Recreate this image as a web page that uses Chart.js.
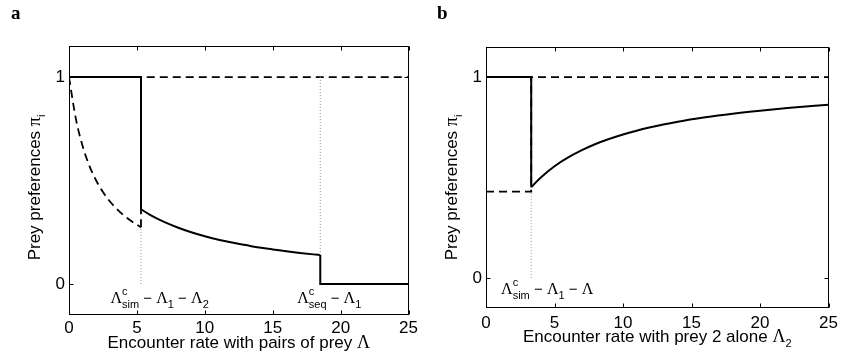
<!DOCTYPE html>
<html>
<head>
<meta charset="utf-8">
<script src="https://cdn.jsdelivr.net/npm/chart.js@4.4.1/dist/chart.umd.min.js"></script>
<style>
  html, body { margin: 0; padding: 0; background: #fff; }
  #wrap { position: relative; width: 843px; height: 362px; }
  canvas { position: absolute; top: 0; }
</style>
</head>
<body>
<div id="wrap">
  <canvas id="chartA" width="421" height="362" style="left:0"></canvas>
  <canvas id="chartB" width="422" height="362" style="left:421px"></canvas>
</div>
<script>
// panel a: preferences vs encounter rate with pairs of prey
const aSwitchSim = 5.3;
const aSwitchSeq = 18.5;
const aDashCurveX = [0, 0.5, 1, 1.5, 2, 2.5, 3, 3.5, 4, 4.5, 5, 5.3];
const aDashCurveY = [1, 0.80, 0.667, 0.571, 0.50, 0.444, 0.40, 0.364, 0.333, 0.308, 0.286, 0.274];
const aSolidCurveX = [5.3, 6, 7, 8, 9, 10, 11, 12, 13, 14, 15, 16, 17, 18, 18.5];
const aSolidCurveY = [0.361, 0.333, 0.30, 0.273, 0.25, 0.231, 0.214, 0.20, 0.188, 0.176, 0.167, 0.158, 0.15, 0.143, 0.14];

// panel b: preferences vs encounter rate with prey 2 alone
const bSwitchSim = 3.3;
const bDashLow = 0.43;
const bSolidCurveX = [3.3, 4, 5, 6, 7, 8, 10, 12, 14, 16, 18, 20, 22, 25];
const bSolidCurveY = [0.452, 0.50, 0.556, 0.60, 0.636, 0.667, 0.714, 0.75, 0.778, 0.80, 0.818, 0.833, 0.846, 0.862];

const xTicks = [0, 5, 10, 15, 20, 25];
const yTicks = [0, 1];

const SANS = '"Liberation Sans", Arial, Helvetica, sans-serif';
const SERIF = '"Liberation Serif", "Times New Roman", serif';
const M = '15px ' + SANS;
const G = '16px ' + SERIF;
const S = '11px ' + SANS;
const T = '17px ' + SANS;
const TG = '18px ' + SERIF;

function pts(xs, ys) { return xs.map((x, i) => ({ x: x, y: ys[i] })); }

function solid(data, smooth) {
  return { data: data, borderColor: '#000', borderWidth: 2, showLine: true, pointRadius: 0,
           cubicInterpolationMode: smooth ? 'monotone' : 'default', tension: 0 };
}
function dashed(data, smooth) {
  const d = solid(data, smooth);
  d.borderDash = [8, 5];
  d.borderWidth = 1.8;
  return d;
}
function dotted(data) {
  return { data: data, borderColor: '#999', borderWidth: 1, borderDash: [1, 2], showLine: true, pointRadius: 0 };
}

// rich text: parts are {t, f, dy, keep}; keep = next part stacks at the same x
function richWidth(ctx, parts) {
  let w = 0, held = 0;
  parts.forEach(p => {
    ctx.font = p.f;
    const pw = ctx.measureText(p.t).width;
    if (p.keep) { held = pw; return; }
    w += Math.max(pw, held);
    held = 0;
  });
  return w;
}
function drawRich(ctx, parts, x, y, align) {
  let cx = align === 'center' ? x - richWidth(ctx, parts) / 2 : x;
  let held = 0;
  ctx.textBaseline = 'alphabetic';
  ctx.textAlign = 'left';
  ctx.fillStyle = '#000';
  parts.forEach(p => {
    ctx.font = p.f;
    ctx.fillText(p.t, cx, y + (p.dy || 0));
    const pw = ctx.measureText(p.t).width;
    if (p.keep) { held = pw; return; }
    cx += Math.max(pw, held);
    held = 0;
  });
}

const decor = {
  id: 'decor',
  afterDraw(chart, args, opts) {
    const ctx = chart.ctx;
    const a = chart.chartArea;
    const xs = chart.scales.x, ys = chart.scales.y;
    const L = Math.round(a.left) + 0.5, R = Math.round(a.right) - 0.5;
    const Tp = Math.round(a.top) + 0.5, B = Math.round(a.bottom) - 0.5;
    ctx.save();
    ctx.strokeStyle = '#000';
    ctx.lineWidth = 1;
    ctx.setLineDash([]);
    ctx.strokeRect(L, Tp, R - L, B - Tp);
    ctx.beginPath();
    xTicks.forEach(v => {
      const px = Math.round(xs.getPixelForValue(v)) + 0.5;
      ctx.moveTo(px, B); ctx.lineTo(px, B - 4);
      ctx.moveTo(px, Tp); ctx.lineTo(px, Tp + 4);
    });
    yTicks.forEach(v => {
      const py = Math.round(ys.getPixelForValue(v)) + 0.5;
      ctx.moveTo(L, py); ctx.lineTo(L + 4, py);
      ctx.moveTo(R, py); ctx.lineTo(R - 4, py);
    });
    ctx.stroke();

    // panel letter
    ctx.font = 'bold 19px ' + SERIF;
    ctx.fillStyle = '#000';
    ctx.textAlign = 'left';
    ctx.textBaseline = 'alphabetic';
    ctx.fillText(opts.letter, opts.letterX, 19);

    // axis titles
    drawRich(ctx, opts.xTitle, (a.left + a.right) / 2, opts.xTitleY, 'center');
    ctx.save();
    ctx.translate(opts.yTitleX, (a.top + a.bottom) / 2 + opts.yTitleShift);
    ctx.rotate(-Math.PI / 2);
    drawRich(ctx, [
      { t: 'Prey preferences ', f: T },
      { t: 'π', f: TG },
      { t: 'i', f: S, dy: 5 }
    ], 0, 0, 'center');
    ctx.restore();

    // threshold labels
    const zero = ys.getPixelForValue(0);
    opts.notes.forEach(n => drawRich(ctx, n.parts, xs.getPixelForValue(n.x), zero + n.dy, 'left'));
    ctx.restore();
  }
};

function makeChart(id, datasets, pad, xH, yW, tickPad, deco) {
  return new Chart(document.getElementById(id), {
    type: 'scatter',
    data: { datasets: datasets },
    options: {
      responsive: false,
      animation: false,
      layout: { padding: pad },
      plugins: { legend: { display: false }, tooltip: { enabled: false }, decor: deco },
      scales: {
        x: {
          type: 'linear', min: 0, max: 25,
          grid: { display: false, drawTicks: false },
          border: { display: false },
          ticks: { stepSize: 5, padding: tickPad, color: '#000', font: { family: SANS, size: 17 } },
          afterFit: s => { s.height = xH; }
        },
        y: {
          type: 'linear', min: -0.15, max: 1.15,
          grid: { display: false, drawTicks: false },
          border: { display: false },
          ticks: { padding: 4, color: '#000', font: { family: SANS, size: 17 } },
          afterBuildTicks: s => { s.ticks = yTicks.map(v => ({ value: v })); },
          afterFit: s => { s.width = yW; }
        }
      }
    },
    plugins: [decor]
  });
}

const simLabel = last => [
  { t: 'Λ', f: G }, { t: 'c', f: S, dy: -8, keep: true }, { t: 'sim', f: S, dy: 5 },
  { t: ' − ', f: M }, { t: 'Λ', f: G }, { t: '1', f: S, dy: 5 },
  { t: ' − ', f: M }
].concat(last);

makeChart('chartA', [
  dotted([{ x: aSwitchSim, y: 0 }, { x: aSwitchSim, y: aDashCurveY[aDashCurveY.length - 1] }]),
  dotted([{ x: aSwitchSeq, y: aSolidCurveY[aSolidCurveY.length - 1] }, { x: aSwitchSeq, y: 1 }]),
  dashed(pts(aDashCurveX, aDashCurveY), true),
  dashed([{ x: aSwitchSim, y: aDashCurveY[aDashCurveY.length - 1] }, { x: aSwitchSim, y: 1 }, { x: 25, y: 1 }]),
  solid([{ x: 0, y: 1 }, { x: aSwitchSim, y: 1 }, { x: aSwitchSim, y: aSolidCurveY[0] }]),
  solid(pts(aSolidCurveX, aSolidCurveY), true),
  solid([{ x: aSwitchSeq, y: aSolidCurveY[aSolidCurveY.length - 1] }, { x: aSwitchSeq, y: 0 }, { x: 25, y: 0 }])
], { left: 0, top: 46, right: 5, bottom: 0 }, 47, 69, 3, {
  letter: 'a', letterX: 11, xTitleY: 348, yTitleX: 40, yTitleShift: 7,
  xTitle: [{ t: 'Encounter rate with pairs of prey ', f: T }, { t: 'Λ', f: TG }],
  notes: [
    { x: 3.05, dy: 19, parts: simLabel([{ t: 'Λ', f: G }, { t: '2', f: S, dy: 5 }]) },
    { x: 16.8, dy: 19, parts: [
      { t: 'Λ', f: G }, { t: 'c', f: S, dy: -8, keep: true }, { t: 'seq', f: S, dy: 5 },
      { t: ' − ', f: M }, { t: 'Λ', f: G }, { t: '1', f: S, dy: 5 }
    ] }
  ]
});

makeChart('chartB', [
  dotted([{ x: bSwitchSim, y: 0 }, { x: bSwitchSim, y: bDashLow }]),
  dashed([{ x: 0, y: 1 }, { x: 25, y: 1 }]),
  dashed([{ x: 0, y: bDashLow }, { x: bSwitchSim, y: bDashLow }, { x: bSwitchSim, y: 1 }]),
  solid([{ x: 0, y: 1 }, { x: bSwitchSim, y: 1 }, { x: bSwitchSim, y: bSolidCurveY[0] }]),
  solid(pts(bSolidCurveX, bSolidCurveY), true)
], { left: 0, top: 47, right: 10, bottom: 0 }, 54, 65, 5, {
  letter: 'b', letterX: 16, xTitleY: 342, yTitleX: 36, yTitleShift: 10,
  xTitle: [{ t: 'Encounter rate with prey 2 alone ', f: T }, { t: 'Λ', f: TG }, { t: '2', f: S, dy: 5 }],
  notes: [
    { x: 1.1, dy: 16, parts: simLabel([{ t: 'Λ', f: G }]) }
  ]
});
</script>
</body>
</html>
